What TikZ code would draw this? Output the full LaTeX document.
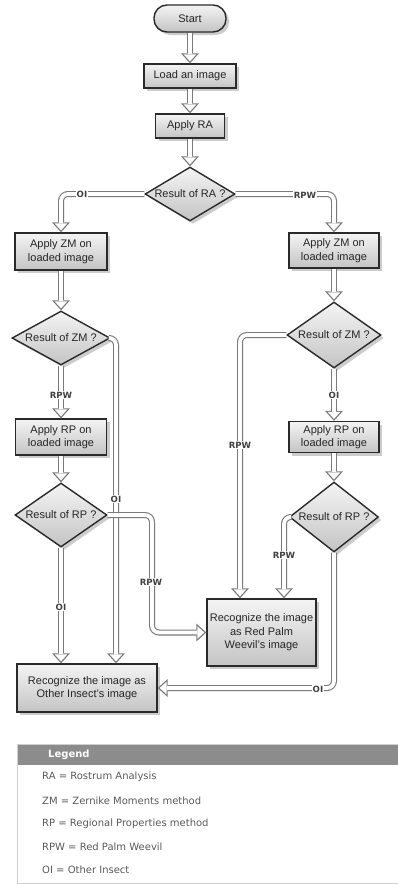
\documentclass[tikz,border=0pt]{standalone}
\usepackage{fontspec}
\setmainfont{Liberation Sans}
\newfontfamily\labfont{DejaVu Sans}
\usetikzlibrary{shapes.geometric,arrows.meta,shadows}
\definecolor{boxline}{HTML}{2A2A2A}
\definecolor{flowline}{HTML}{7A7A7A}
\definecolor{boxtop}{HTML}{F4F4F4}
\definecolor{boxbot}{HTML}{C4C4C4}
\definecolor{legendhead}{HTML}{8C8C8C}
\definecolor{legendtext}{HTML}{5A5A5A}
\definecolor{legendframe}{HTML}{CFCFCF}
\newcommand\flow[1]{\draw[flowout] #1; \draw[flowin] #1;}
\begin{document}
\begin{tikzpicture}[x=1pt,y=-1pt,
  base/.style={draw=boxline, line width=1.4pt, top color=boxtop, bottom color=boxbot,
    text=black!85, font=\fontsize{11}{13.5}\selectfont, align=center, inner sep=0pt,
    drop shadow={shadow xshift=3pt, shadow yshift=-3pt, fill=black!20, opacity=1}},
  proc/.style={base, rectangle},
  dec/.style={base, diamond, aspect=1.8},
  term/.style={base, rectangle, rounded corners=13pt},
  flowout/.style={draw=flowline, line width=6pt, rounded corners=7pt,
    -{Triangle[length=10pt,width=18pt,line width=0pt]}},
  flowin/.style={draw=white, line width=3.8pt, rounded corners=7pt, shorten >=1.9pt,
    -{Triangle[length=7pt,width=12.6pt,line width=0pt]}},
  lab/.style={fill=white, inner sep=1pt, font=\labfont\bfseries\fontsize{8.6}{10}\selectfont, text=black!75},
  leg/.style={anchor=west, inner sep=0pt, font=\labfont\fontsize{10}{12}\selectfont, text=legendtext},
]
\useasboundingbox (0,0) rectangle (398,884);

% nodes
\node[term, minimum width=72pt, minimum height=27pt] (start) at (190,18.5) {Start};
\node[proc, minimum width=92pt, minimum height=24pt] (load) at (190,76) {Load an image};
\node[proc, minimum width=69pt, minimum height=24pt] (ra) at (190,126) {Apply RA};
\node[dec, minimum width=90pt, minimum height=54pt] (dra) at (190,194) {Result of RA ?};
\node[proc, minimum width=92pt, minimum height=37pt] (zmL) at (61,251.5) {Apply ZM on\\loaded image};
\node[proc, minimum width=90pt, minimum height=35pt] (zmR) at (334,250.5) {Apply ZM on\\loaded image};
\node[dec, minimum width=98pt, minimum height=54pt] (dzL) at (61,338) {Result of ZM ?};
\node[dec, minimum width=94pt, minimum height=66pt] (dzR) at (334,335) {Result of ZM ?};
\node[proc, minimum width=91pt, minimum height=36pt] (rpL) at (61,437) {Apply RP on\\loaded image};
\node[proc, minimum width=90pt, minimum height=31pt] (rpR) at (334,437) {Apply RP on\\loaded image};
\node[dec, minimum width=92pt, minimum height=64pt] (drL) at (61,515) {Result of RP ?};
\node[dec, minimum width=89pt, minimum height=70pt] (drR) at (334,517) {Result of RP ?};
\node[proc, minimum width=109pt, minimum height=67pt] (rpw) at (261.5,632.5) {Recognize the image\\as Red Palm\\Weevil's image};
\node[proc, minimum width=140pt, minimum height=48pt] (oi) at (87,688) {Recognize the image as\\Other Insect's image};

% connectors
\flow{(start) -- (load)}
\flow{(load) -- (ra)}
\flow{(ra) -- (dra)}
\flow{(dra.west) -| (zmL.north)}
\flow{(dra.east) -| (zmR.north)}
\flow{(zmL) -- (dzL)}
\flow{(zmR) -- (dzR)}
\flow{(dzL) -- (rpL)}
\flow{(dzR) -- (rpR)}
\flow{(rpL) -- (drL)}
\flow{(rpR) -- (drR)}
\coordinate (c1) at (116,338);
\flow{(dzL.east) -- (c1) -- (c1 |- oi.north)}
\flow{(drL.south) -- (drL.south |- oi.north)}
\coordinate (c2) at (152,515);
\flow{(drL.east) -- (c2) |- (rpw.west)}
\coordinate (c3) at (240,335);
\flow{(dzR.west) -- (c3) -- (c3 |- rpw.north)}
\coordinate (c4) at (284,517);
\flow{(drR.west) -- (c4) -- (c4 |- rpw.north)}
\flow{(drR.south) |- (oi.east)}

% labels
\node[lab] (l1) at (82,194) {OI};
\node[lab] (l2) at (305,195) {RPW};
\node[lab] (l3) at (61,395) {RPW};
\node[lab] (l4) at (334,395) {OI};
\node[lab] (l5) at (116,499) {OI};
\node[lab] (l6) at (61,607) {OI};
\node[lab] (l7) at (151,582) {RPW};
\node[lab] (l8) at (240,445) {RPW};
\node[lab] (l9) at (284,555) {RPW};
\node[lab] (l10) at (318,689) {OI};

% legend
\fill[white] (17,744) rectangle (400,883);
\fill[legendhead] (17,744) rectangle (400,765);
\draw[legendframe, line width=0.8pt] (17,744) rectangle (400,883);
\node[anchor=west, inner sep=0pt, text=white, font=\labfont\bfseries\fontsize{10}{12}\selectfont] (legtitle) at (48,755) {Legend};
\node[leg] (lg1) at (42,777) {RA = Rostrum Analysis};
\node[leg] (lg2) at (42,801) {ZM = Zernike Moments method};
\node[leg] (lg3) at (42,824) {RP = Regional Properties method};
\node[leg] (lg4) at (42,847) {RPW = Red Palm Weevil};
\node[leg] (lg5) at (42,870) {OI = Other Insect};
\end{tikzpicture}
\end{document}
